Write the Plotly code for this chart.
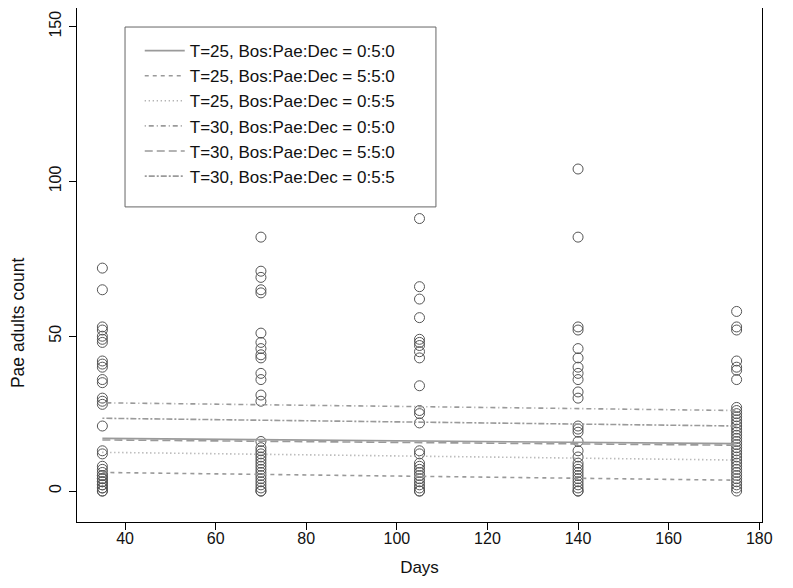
import plotly.graph_objects as go

# ---- data ----
days = [35, 70, 105, 140, 175]
counts_d35 = [72, 65, 53, 52, 50, 49, 48, 42, 41, 40, 36, 35, 30, 29, 28, 21, 13, 12,
              8, 7, 6, 5, 5, 4, 4, 3, 3, 2, 2, 1, 1, 0, 0]
counts_d70 = [82, 71, 69, 65, 64, 51, 48, 46, 44, 43, 38, 36, 31, 29, 16, 14, 13, 12, 11,
              10, 9, 8, 7, 6, 5, 4, 3, 2, 1, 0, 0]
counts_d105 = [88, 66, 62, 56, 49, 48, 47, 45, 43, 34, 26, 25, 22, 13, 12, 9, 8, 7, 6, 5,
               4, 3, 2, 1, 0, 0]
counts_d140 = [104, 82, 53, 52, 46, 43, 40, 38, 36, 32, 30, 21, 20, 19, 16, 13, 11, 9, 8,
               7, 6, 5, 4, 3, 2, 1, 0, 0]
counts_d175 = [58, 53, 52, 42, 40, 39, 36, 27, 26, 25, 24, 23, 22, 21, 20, 19, 18, 17, 16,
               15, 14, 13, 12, 11, 10, 9, 8, 7, 6, 5, 4, 3, 2, 1, 0]

line_names = ["T=25, Bos:Pae:Dec = 0:5:0", "T=25, Bos:Pae:Dec = 5:5:0",
              "T=25, Bos:Pae:Dec = 0:5:5", "T=30, Bos:Pae:Dec = 0:5:0",
              "T=30, Bos:Pae:Dec = 5:5:0", "T=30, Bos:Pae:Dec = 0:5:5"]
line_x = [35, 175]
line_y_start = [17.0, 6.0, 12.5, 28.5, 16.5, 23.5]
line_y_end = [15.3, 3.5, 10.0, 26.0, 14.8, 21.0]

x_ticks = [40, 60, 80, 100, 120, 140, 160, 180]
y_ticks = [0, 50, 100, 150]

# ---- styles ----
dashes = ["solid", "4px,4px", "1px,3px", "1px,3px,5px,3px", "8px,4px", "2px,2px,6px,2px"]
line_color = "#9a9a9a"
point_color = "#555555"
font_family = "Liberation Sans, Arial, Helvetica, sans-serif"

fig = go.Figure()

all_x, all_y = [], []
for d, vals in zip(days, [counts_d35, counts_d70, counts_d105, counts_d140, counts_d175]):
    all_x += [d] * len(vals)
    all_y += vals

fig.add_trace(go.Scatter(
    x=all_x, y=all_y, mode="markers", showlegend=False,
    marker=dict(symbol="circle-open", size=10, color=point_color,
                line=dict(color=point_color, width=1)),
))

for name, y0, y1, dash in zip(line_names, line_y_start, line_y_end, dashes):
    fig.add_trace(go.Scatter(
        x=line_x, y=[y0, y1], mode="lines", name=name,
        line=dict(color=line_color, width=1.6, dash=dash),
    ))

# page body has an 8px margin, so the figure is sized to fit inside the window
fig.update_layout(
    width=777, height=572,
    margin=dict(l=69, r=23, t=0, b=58, autoexpand=False),
    paper_bgcolor="white", plot_bgcolor="white",
    font=dict(family=font_family, size=16, color="#111"),
    legend=dict(
        x=0.0916, y=0.9513, xanchor="left", yanchor="top",
        borderwidth=0, bgcolor="rgba(0,0,0,0)",
        font=dict(size=17, family=font_family, color="#111"),
        tracegroupgap=0, itemwidth=40,
    ),
    shapes=[dict(type="rect", xref="paper", yref="paper",
                 x0=0.0701, x1=0.524, y0=0.613, y1=0.963,
                 line=dict(color="#666", width=1), fillcolor="rgba(0,0,0,0)")],
    annotations=[dict(text="Pae adults count", xref="paper", yref="paper",
                      x=-0.0861, y=0.387, textangle=-90, showarrow=False,
                      xanchor="center", yanchor="middle",
                      font=dict(size=17.5, family=font_family, color="#111"))],
)

fig.update_xaxes(
    range=[29.4, 180.6], tickvals=x_ticks, ticks="outside", ticklen=7,
    tickcolor="black", showline=True, linecolor="black", linewidth=1, mirror=True,
    showgrid=False, zeroline=False, tickfont=dict(size=16), automargin=False,
    ticklabelstandoff=-5,
    title=dict(text="Days", font=dict(size=17), standoff=14),
)
fig.update_yaxes(
    range=[-10, 156], tickvals=y_ticks, ticks="outside", ticklen=7,
    tickcolor="black", showline=True, linecolor="black", linewidth=1, mirror=True,
    showgrid=False, zeroline=False, tickangle=-90, tickfont=dict(size=16),
    automargin=False, ticklabelstandoff=2,
)

fig.write_html("out.html")
